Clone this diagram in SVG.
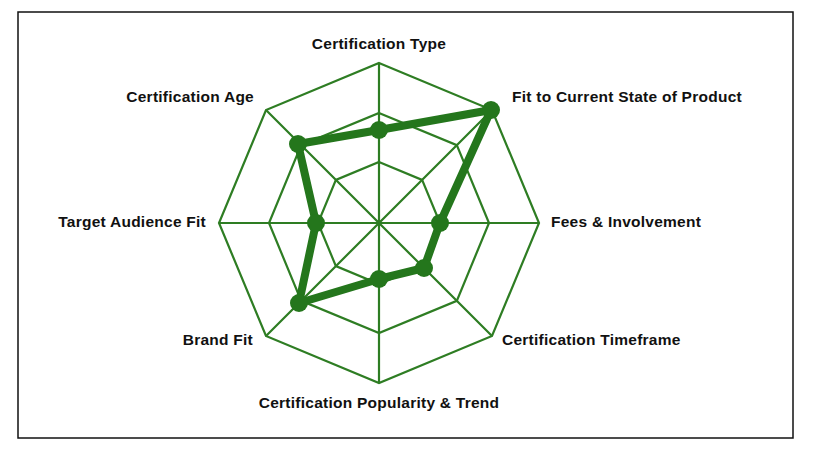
<svg xmlns="http://www.w3.org/2000/svg" width="818" height="460" viewBox="0 0 818 460">
<style>
.grid{fill:none;stroke:#2e7d23;stroke-width:2.2}
.lbl{font-family:"Liberation Sans",Arial,sans-serif;font-weight:bold;font-size:15.5px;letter-spacing:0.25px;fill:#111;dominant-baseline:middle}
.dot{fill:#24761c}
</style>
<rect x="18" y="12" width="775" height="426" fill="#fff" stroke="#111" stroke-width="1.5"/>
<g id="grid" transform="translate(379,223)">
<polygon class="grid" points="0,-160 113,-113 160,0 113,113 0,160 -113,113 -160,0 -113,-113"/>
<polygon class="grid" points="0,-110 77.8,-77.8 110,0 77.8,77.8 0,110 -77.8,77.8 -110,0 -77.8,-77.8"/>
<polygon class="grid" points="0,-61 43.1,-43.1 61,0 43.1,43.1 0,61 -43.1,43.1 -61,0 -43.1,-43.1"/>
<path class="grid" d="M0,-160V160M-160,0H160M-113,-113L113,113M113,-113L-113,113"/>
</g>
<g id="series">
<polygon points="379,130 491,110 440,223 424,268 379,279 299,303 316,223 298,144" fill="none" stroke="#24761c" stroke-width="8" stroke-linejoin="round"/>
<circle class="dot" cx="379" cy="130" r="9"/><circle class="dot" cx="491" cy="110" r="9"/>
<circle class="dot" cx="440" cy="223" r="9"/><circle class="dot" cx="424" cy="268" r="9"/>
<circle class="dot" cx="379" cy="279" r="9"/><circle class="dot" cx="299" cy="303" r="9"/>
<circle class="dot" cx="316" cy="223" r="9"/><circle class="dot" cx="298" cy="144" r="9"/>
</g>
<g id="labels">
<text class="lbl" x="379" y="45" text-anchor="middle">Certification Type</text>
<text class="lbl" x="512" y="98">Fit to Current State of Product</text>
<text class="lbl" x="551" y="223">Fees &amp; Involvement</text>
<text class="lbl" x="502" y="341">Certification Timeframe</text>
<text class="lbl" x="379" y="404" text-anchor="middle">Certification Popularity &amp; Trend</text>
<text class="lbl" x="253" y="341" text-anchor="end">Brand Fit</text>
<text class="lbl" x="206" y="223" text-anchor="end">Target Audience Fit</text>
<text class="lbl" x="254" y="98" text-anchor="end">Certification Age</text>
</g>
</svg>
